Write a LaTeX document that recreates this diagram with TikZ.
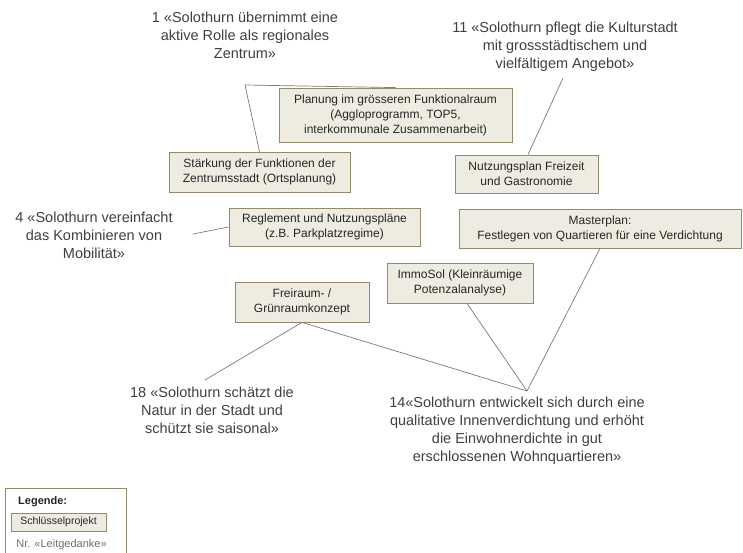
\documentclass[tikz,border=0pt]{standalone}
\usepackage{fontspec}
\setmainfont{Liberation Sans}
\definecolor{boxfill}{HTML}{EEECE1}
\definecolor{boxline}{HTML}{948A6A}
\definecolor{boxtext}{HTML}{262626}
\definecolor{leittext}{HTML}{404040}
\definecolor{conn}{HTML}{7A7A7A}
\definecolor{legtext}{HTML}{6E6E62}
\begin{document}
\begin{tikzpicture}[x=1pt,y=-1pt,
  proj/.style={draw=boxline,fill=boxfill,line width=0.8pt,inner sep=0pt,align=center,
    text=boxtext,font=\fontsize{12}{15}\selectfont},
  leit/.style={inner sep=0pt,align=center,text=leittext,font=\fontsize{14.5}{18}\selectfont},
  link/.style={draw=conn,line width=0.7pt}]
\useasboundingbox (0,0) rectangle (743,553);
\fill[white] (0,0) rectangle (743,553);

% Leitgedanken
\node[leit] (l1) at (245,35) {1 «Solothurn übernimmt eine\\aktive Rolle als regionales\\Zentrum»};
\node[leit] (l11) at (565,47) {11 «Solothurn pflegt die Kulturstadt\\mit grossstädtischem und\\vielfältigem Angebot»};
\node[leit] (l4) at (94,235) {4 «Solothurn vereinfacht\\das Kombinieren von\\Mobilität»};
\node[leit] (l18) at (212,410) {18 «Solothurn schätzt die\\Natur in der Stadt und\\schützt sie saisonal»};
\node[leit] (l14) at (517,431) {14«Solothurn entwickelt sich durch eine\\qualitative Innenverdichtung und erhöht\\die Einwohnerdichte in gut\\erschlossenen Wohnquartieren»};

% Schluesselprojekte
\node[proj,minimum width=233,minimum height=54] (plan) at (395.5,115) {Planung im grösseren Funktionalraum\\(Aggloprogramm, TOP5,\\interkommunale Zusammenarbeit)};
\node[proj,minimum width=181,minimum height=40] (staerk) at (259.5,172) {Stärkung der Funktionen der\\Zentrumsstadt (Ortsplanung)};
\node[proj,minimum width=143,minimum height=38] (nutz) at (526.5,174) {Nutzungsplan Freizeit\\und Gastronomie};
\node[proj,minimum width=282,minimum height=39] (master) at (600,228.5) {Masterplan:\\Festlegen von Quartieren für eine Verdichtung};
\node[proj,minimum width=191,minimum height=38] (regl) at (324.5,227) {Reglement und Nutzungspläne\\(z.B. Parkplatzregime)};
\node[proj,minimum width=134,minimum height=40] (frei) at (302,302) {Freiraum- /\\Grünraumkonzept};
\node[proj,minimum width=146,minimum height=40] (immo) at (460,283) {ImmoSol (Kleinräumige\\Potenzalanalyse)};

% free ends
\coordinate (c1) at (245,85);
\coordinate (c11) at (563,78);
\coordinate (c4) at (193,234);
\coordinate (c18) at (205,380);
\coordinate (c14) at (527,391);

\draw[link] (plan.north) -- (c1) -- (staerk.north);
\draw[link] (c11) -- ([xshift=1.5pt]nutz.north);
\draw[link] (c4) -- (regl.west);
\draw[link] (c18) -- (frei.south) -- (c14);
\draw[link] ([xshift=7pt]immo.south) -- (c14) -- (master.south);

% Legende
\draw[draw=boxline,line width=0.8pt] (5,488) rectangle (126,560);
\node[anchor=west,inner sep=0pt,text=boxtext,font=\bfseries\fontsize{11}{13}\selectfont] (leg) at (18,502) {Legende:};
\node[proj,minimum width=95,minimum height=18,font=\fontsize{10.5}{12}\selectfont] (legp) at (58.5,522) {Schlüsselprojekt};
\node[inner sep=0pt,text=legtext,font=\fontsize{11}{13}\selectfont] (legl) at (61.5,545) {Nr. «Leitgedanke»};
\end{tikzpicture}
\end{document}
